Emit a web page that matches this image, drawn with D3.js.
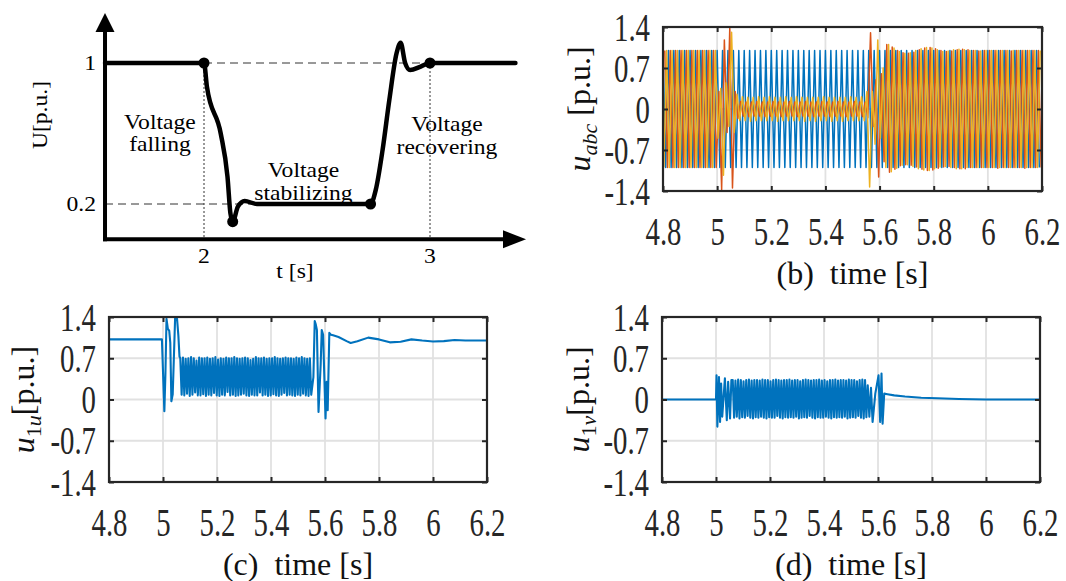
<!DOCTYPE html>
<html>
<head>
<meta charset="utf-8">
<script src="https://cdn.jsdelivr.net/npm/d3@7"></script>
<style>
  body { margin: 0; background: #fff; }
  svg { display: block; }
</style>
</head>
<body>
<div id="fig"></div>
<script>
// ---------- (a) sketch of the voltage dip
var sagT = [1.562, 2.0, 2.013, 2.074, 2.104, 2.117, 2.127, 2.15, 2.18, 2.234, 2.737, 2.76, 2.79, 2.82, 2.852, 2.87, 2.89, 2.912, 2.959, 3.0, 3.378];
var sagU = [1, 1, 0.865, 0.6, 0.354, 0.146, 0.1, 0.185, 0.217, 0.2, 0.2, 0.28, 0.505, 0.79, 1.055, 1.115, 1.0, 0.96, 0.98, 1.0, 1.0];
var sagDotT = [2, 2.127, 2.737, 3];
var sagDotU = [1, 0.1, 0.2, 1];
var sagTickT = [2, 3];
var sagTickU = [0.2, 1];
var sagStages = [
  {lines: ["Voltage", "falling"], t: 1.805, u: 0.66},
  {lines: ["Voltage", "stabilizing"], t: 2.44, u: 0.387},
  {lines: ["Voltage", "recovering"], t: 3.075, u: 0.648}
];

// ---------- (b)-(d) simulation traces
var xTicks = [4.8, 5, 5.2, 5.4, 5.6, 5.8, 6, 6.2];
var xTickLabels = ["4.8", "5", "5.2", "5.4", "5.6", "5.8", "6", "6.2"];
var yTicks = [-1.4, -0.7, 0, 0.7, 1.4];
var yTickLabels = ["-1.4", "-0.7", "0", "0.7", "1.4"];

// (b) half-cycle peak magnitudes of the three phase voltages, one every 10 ms
var halfPeriod = 0.01;
var phaseStart = [4.8, 4.80667, 4.80333];
var phaseSign = [1, 1, -1];
var phaseA = [
  1, 1, 1, 1, 1, 1, 1, 1, 1, 1, 1, 1, 1, 1, 1, 1, 1, 1, 1, 1,
  1, 1, 1, 1, 1, 1, 1, 1, 1, 1, 1, 1, 1, 1, 1, 1, 1, 1, 1, 1,
  1, 1, 1, 1, 1, 1, 1, 1, 1, 1, 1, 1, 1, 1, 1, 1, 1, 1, 1, 1,
  1, 1, 1, 1, 1, 1, 1, 1, 1, 1, 1, 1, 1, 1, 1, 1, 1, 1, 1, 1,
  1, 1, 1, 1, 1, 1, 1, 1, 1, 1, 1, 1, 1, 1, 1, 1, 1, 1, 1, 1,
  1, 1, 1, 1, 1, 1, 1, 1, 1, 1, 1, 1, 1, 1, 1, 1, 1, 1, 1, 1,
  1, 1, 1, 1, 1, 1, 1, 1, 1, 1, 1, 1, 1, 1, 1, 1, 1, 1, 1, 1
];
var phaseB = [
  1, 1, 1, 1, 1, 1, 1, 1, 1, 1, 1, 1, 1, 1, 1, 1, 1, 1, 1, 1,
  0.3, 1.38, 1.18, 0.4, 1.38, 1.35, 0.3, 0.16, 0.13, 0.12, 0.12, 0.13, 0.12, 0.12, 0.13, 0.12, 0.12, 0.13, 0.12, 0.12,
  0.13, 0.12, 0.12, 0.13, 0.12, 0.12, 0.13, 0.12, 0.12, 0.13, 0.12, 0.12, 0.13, 0.12, 0.12, 0.13, 0.12, 0.12, 0.13, 0.12,
  0.12, 0.13, 0.12, 0.12, 0.13, 0.12, 0.12, 0.13, 0.12, 0.12, 0.13, 0.12, 0.12, 0.13, 0.12, 0.15, 1.3, 0.3, 0.5, 1.16,
  0.6, 0.9, 1.1, 1.08, 1.06, 1.03, 1.0, 0.97, 0.96, 0.95, 0.95, 0.96, 0.97, 0.99, 1.01, 1.03, 1.04, 1.05, 1.05, 1.04,
  1.03, 1.01, 1.0, 0.99, 0.98, 0.98, 0.99, 1.0, 1.01, 1.02, 1.02, 1.02, 1.01, 1.0, 1.0, 1.0, 0.99, 1.0, 1.0, 1.0,
  1, 1, 1, 1.01, 1, 1, 1, 1, 0.99, 1, 1, 1, 1, 1.01, 1, 1, 1, 1, 1, 1
];
var phaseC = [
  1, 1, 1, 1, 1, 1, 1, 1, 1, 1, 1, 1, 1, 1, 1, 1, 1, 1, 1, 1,
  0.5, 0.35, 1.13, 0.45, 0.3, 1.31, 0.4, 0.25, 0.2, 0.21, 0.2, 0.2, 0.21, 0.2, 0.2, 0.21, 0.2, 0.2, 0.2, 0.21,
  0.2, 0.2, 0.21, 0.2, 0.2, 0.21, 0.2, 0.2, 0.2, 0.21, 0.2, 0.2, 0.21, 0.2, 0.2, 0.2, 0.21, 0.2, 0.2, 0.21,
  0.2, 0.2, 0.21, 0.2, 0.2, 0.2, 0.21, 0.2, 0.2, 0.21, 0.2, 0.2, 0.2, 0.21, 0.2, 0.3, 1.33, 0.3, 0.6, 1.18,
  0.5, 0.7, 1.0, 1.1, 1.07, 1.04, 1.01, 0.98, 0.96, 0.95, 0.95, 0.96, 0.98, 1.0, 1.02, 1.03, 1.04, 1.05, 1.05, 1.04,
  1.02, 1.01, 0.99, 0.98, 0.98, 0.99, 1.0, 1.01, 1.02, 1.02, 1.02, 1.01, 1.0, 1.0, 1.0, 1.0, 1.0, 0.99, 1.0, 1.0,
  1, 1, 1, 1, 1, 1, 1, 1, 1, 1, 1, 1, 1, 1, 1, 1, 1, 1, 1, 1
];
var phaseColors = ["#0072BD", "#D95319", "#EDB120"];

// (c) u1u: fault-entry transient, 100 Hz ripple band during the dip, recovery
var u1uOnT = [4.8, 4.996, 5.005, 5.009, 5.013, 5.018, 5.023, 5.027, 5.031, 5.036, 5.040, 5.045, 5.052, 5.057, 5.061];
var u1uOnV = [1.02, 1.02, -0.2, 0.44, 1.37, 1.2, 1.17, 0.96, -0.03, 0.09, 0.67, 1.4, 1.37, 1.08, 0.73];
var u1uBandStart = 5.064;
var u1uBandHi = [
  0.70, 0.71, 0.69, 0.70, 0.72, 0.70, 0.66, 0.71, 0.70, 0.70,
  0.71, 0.69, 0.70, 0.72, 0.68, 0.70, 0.69, 0.71, 0.70, 0.70,
  0.72, 0.70, 0.69, 0.70, 0.71, 0.70, 0.67, 0.69, 0.72, 0.70,
  0.70, 0.71, 0.69, 0.70, 0.70, 0.72, 0.70, 0.69, 0.70, 0.71,
  0.70, 0.70, 0.69, 0.71, 0.70, 0.72, 0.70, 0.69, 0.70
];
var u1uBandLo = [
  0.08, 0.07, 0.10, 0.06, 0.08, 0.12, 0.07, 0.07, 0.09, 0.06,
  0.08, 0.07, 0.11, 0.07, 0.06, 0.08, 0.07, 0.13, 0.07, 0.08,
  0.06, 0.07, 0.08, 0.10, 0.07, 0.06, 0.08, 0.07, 0.07, 0.12,
  0.07, 0.08, 0.06, 0.07, 0.09, 0.07, 0.06, 0.08, 0.11, 0.07,
  0.08, 0.07, 0.06, 0.08, 0.07, 0.10, 0.07, 0.06, 0.08
];
var u1uOffT = [5.557, 5.562, 5.566, 5.570, 5.576, 5.584, 5.588, 5.593, 5.602, 5.606, 5.610, 5.616, 5.622, 5.63, 5.65, 5.68, 5.695, 5.72, 5.76, 5.80, 5.84, 5.88, 5.92, 5.96, 6.0, 6.04, 6.08, 6.12, 6.2];
var u1uOffV = [0.38, 1.33, 1.27, 1.18, -0.21, 0.6, 1.18, 1.1, -0.32, 0.3, -0.18, 1.13, 1.1, 1.09, 1.06, 0.99, 0.96, 0.99, 1.05, 1.02, 0.97, 0.98, 1.02, 1.0, 0.985, 0.99, 1.01, 1.0, 1.0];

// (d) u1v
var u1vOnT = [4.8, 5.0, 5.002, 5.005, 5.011, 5.015, 5.019, 5.023, 5.033, 5.040, 5.045, 5.052, 5.057];
var u1vOnV = [0, 0, 0.41, -0.46, 0.38, -0.38, 0.27, -0.29, 0.36, -0.35, 0.3, -0.32, 0.33];
var u1vBandStart = 5.062;
var u1vBandHi = [
  0.33, 0.32, 0.34, 0.33, 0.31, 0.33, 0.34, 0.32, 0.33, 0.33,
  0.32, 0.34, 0.33, 0.33, 0.31, 0.33, 0.34, 0.33, 0.32, 0.33,
  0.33, 0.34, 0.32, 0.33, 0.33, 0.31, 0.33, 0.34, 0.33, 0.32,
  0.33, 0.33, 0.34, 0.32, 0.33, 0.31, 0.33, 0.33, 0.34, 0.32,
  0.33, 0.33, 0.32, 0.34, 0.33, 0.33, 0.31, 0.33, 0.34, 0.33
];
var u1vBandLo = [
  -0.31, -0.29, -0.32, -0.30, -0.31, -0.28, -0.31, -0.32, -0.30, -0.31,
  -0.29, -0.31, -0.32, -0.30, -0.31, -0.31, -0.28, -0.31, -0.32, -0.30,
  -0.31, -0.30, -0.31, -0.29, -0.32, -0.31, -0.30, -0.31, -0.28, -0.31,
  -0.32, -0.30, -0.31, -0.31, -0.29, -0.31, -0.32, -0.30, -0.31, -0.30,
  -0.31, -0.29, -0.32, -0.31, -0.30, -0.31, -0.28, -0.31, -0.32, -0.30
];
var u1vOffT = [5.562, 5.568, 5.574, 5.580, 5.59, 5.602, 5.608, 5.613, 5.617, 5.623, 5.635, 5.66, 5.70, 5.76, 5.82, 5.9, 6.0, 6.2];
var u1vOffV = [0.24, -0.29, 0.2, -0.38, 0.1, 0.41, -0.38, 0.44, -0.41, 0.1, 0.09, 0.07, 0.05, 0.03, 0.02, 0.008, 0.0, 0.0];

var svg = d3.select("#fig").append("svg").attr("width", 1066).attr("height", 581);
var serifFont = "'Liberation Serif', 'Times New Roman'";

// ================= panel (a)
var xa = d3.scaleLinear().domain([2, 3]).range([204, 430]);
var ya = d3.scaleLinear().domain([0.2, 1]).range([204, 63]);
var ga = svg.append("g").attr("fill", "#000");
var ax0 = xa(1.562), ay0 = ya(0);
var wide = " scale(1.18,1)";   // the sketch uses a wider serif face

// guide lines
ga.append("line").attr("x1", xa(2)).attr("x2", xa(3)).attr("y1", ya(1)).attr("y2", ya(1))
  .attr("stroke", "#333").attr("stroke-width", 1).attr("stroke-dasharray", "8,5");
ga.append("line").attr("x1", ax0).attr("x2", xa(2.737)).attr("y1", ya(0.2)).attr("y2", ya(0.2))
  .attr("stroke", "#333").attr("stroke-width", 1).attr("stroke-dasharray", "8,5");
ga.selectAll(".vguide").data(sagTickT).join("line")
  .attr("x1", d => xa(d)).attr("x2", d => xa(d)).attr("y1", ya(1)).attr("y2", ay0)
  .attr("stroke", "#333").attr("stroke-width", 1).attr("stroke-dasharray", "2,2");

// axes with arrow heads
ga.append("line").attr("x1", ax0).attr("x2", ax0).attr("y1", ay0 + 2).attr("y2", ya(1.18))
  .attr("stroke", "#000").attr("stroke-width", 4);
ga.append("path").attr("d", "M" + (ax0 - 9.5) + "," + ya(1.176) + "L" + ax0 + "," + ya(1.284) + "L" + (ax0 + 9.5) + "," + ya(1.176) + "Z");
ga.append("line").attr("x1", ax0 - 2).attr("x2", xa(3.33)).attr("y1", ay0).attr("y2", ay0)
  .attr("stroke", "#000").attr("stroke-width", 4);
ga.append("path").attr("d", "M" + xa(3.323) + "," + (ay0 - 9) + "L" + xa(3.425) + "," + ay0 + "L" + xa(3.323) + "," + (ay0 + 9) + "Z");

// curve and dots
ga.append("path").datum(d3.zip(sagT, sagU))
  .attr("fill", "none").attr("stroke", "#000").attr("stroke-width", 4.5)
  .attr("stroke-linejoin", "round").attr("stroke-linecap", "round")
  .attr("d", d3.line().x(d => xa(d[0])).y(d => ya(d[1])).curve(d3.curveMonotoneX));
ga.selectAll(".dot").data(d3.zip(sagDotT, sagDotU)).join("circle")
  .attr("cx", d => xa(d[0])).attr("cy", d => ya(d[1])).attr("r", 5.5);

// tick labels and titles
ga.selectAll(".tl").data(sagTickT).join("text")
  .attr("transform", d => "translate(" + xa(d) + ",263)" + wide).attr("text-anchor", "middle").text(d => d);
ga.selectAll(".ul").data(sagTickU).join("text")
  .attr("transform", d => "translate(96," + (ya(d) + 7) + ")" + wide).attr("text-anchor", "end").text(d => d);
ga.append("text").attr("transform", "translate(295,278)" + wide).attr("text-anchor", "middle").text("t [s]");
ga.append("text").attr("transform", "translate(47,115) rotate(-90)" + wide).attr("text-anchor", "middle").text("U[p.u.]");
sagStages.forEach(function(s) {
  var txt = ga.append("text").attr("text-anchor", "middle")
    .attr("transform", "translate(" + xa(s.t) + "," + (ya(s.u) + 6) + ")" + wide);
  s.lines.forEach(function(line, i) {
    txt.append("tspan").attr("x", 0).attr(i ? "dy" : "y", i ? 22.5 : 0).text(line);
  });
});
ga.selectAll("text").style("font-family", serifFont).style("font-size", "20px");

// ================= panels (b)-(d)
function halfCycles(mags, t0, sign0) {
  return mags.map(function(m, k) { return [t0 + k * halfPeriod, (k % 2 ? -sign0 : sign0) * m]; });
}
function withBand(onT, onV, start, hi, lo, offT, offV) {
  var pts = d3.zip(onT, onV);
  hi.forEach(function(h, i) {
    pts.push([start + i * halfPeriod, h]);
    pts.push([start + i * halfPeriod + halfPeriod / 2, lo[i]]);
  });
  return pts.concat(d3.zip(offT, offV));
}

var scopeId = 0;
function scope(cfg) {
  var x = d3.scaleLinear().domain([4.8, 6.2]).range([cfg.left, cfg.right]);
  var y = d3.scaleLinear().domain([-1.4, 1.4]).range([cfg.bottom, cfg.top]);
  var h = cfg.bottom - cfg.top, w = cfg.right - cfg.left;
  var g = svg.append("g");
  var id = "clip" + (scopeId++);
  g.append("clipPath").attr("id", id).append("rect")
    .attr("x", cfg.left).attr("y", cfg.top).attr("width", w).attr("height", h);

  // grid
  g.append("g").selectAll("line").data(xTicks.slice(1, -1)).join("line")
    .attr("x1", d => x(d)).attr("x2", d => x(d)).attr("y1", cfg.top).attr("y2", cfg.bottom)
    .attr("stroke", "#e1e1e1").attr("stroke-width", 1.8);
  g.append("g").selectAll("line").data(yTicks.slice(1, -1)).join("line")
    .attr("y1", d => y(d)).attr("y2", d => y(d)).attr("x1", cfg.left).attr("x2", cfg.right)
    .attr("stroke", "#e1e1e1").attr("stroke-width", 1.8);

  // traces
  var line = d3.line().x(d => x(d[0])).y(d => y(d[1]));
  var plot = g.append("g").attr("clip-path", "url(#" + id + ")");
  cfg.series.forEach(function(s) {
    plot.append("path").datum(s.points).attr("fill", "none")
      .attr("stroke", s.color).attr("stroke-width", cfg.lw).attr("stroke-linejoin", "round")
      .attr("d", line);
  });

  // axes, inward ticks, box
  var tickStyle = function(sel) {
    sel.select(".domain").remove();
    sel.selectAll("line").attr("stroke", "#262626").attr("stroke-width", 2);
    sel.selectAll("text").attr("fill", "#262626").style("font-size", "40px");
  };
  g.append("g").attr("transform", "translate(0," + cfg.bottom + ")")
    .call(d3.axisBottom(x).tickValues(xTicks).tickFormat((d, i) => xTickLabels[i]).tickSizeInner(-5).tickSizeOuter(0))
    .call(tickStyle)
    .selectAll("text").attr("y", 54).attr("dy", null).attr("transform", "scale(0.72,1)");
  g.append("g").attr("transform", "translate(0," + cfg.top + ")")
    .call(d3.axisTop(x).tickValues(xTicks).tickFormat("").tickSizeInner(-5).tickSizeOuter(0))
    .call(tickStyle);
  g.append("g").attr("transform", "translate(" + cfg.left + ",0)")
    .call(d3.axisLeft(y).tickValues(yTicks).tickFormat((d, i) => yTickLabels[i]).tickSizeInner(-5).tickSizeOuter(0))
    .call(tickStyle)
    .selectAll("text").attr("x", -13 / 0.72).attr("dy", "0.33em").attr("transform", "scale(0.72,1)");
  g.append("g").attr("transform", "translate(" + cfg.right + ",0)")
    .call(d3.axisRight(y).tickValues(yTicks).tickFormat("").tickSizeInner(-5).tickSizeOuter(0))
    .call(tickStyle);
  g.append("rect").attr("x", cfg.left).attr("y", cfg.top).attr("width", w).attr("height", h)
    .attr("fill", "none").attr("stroke", "#262626").attr("stroke-width", 2.2);

  // labels
  g.append("text").attr("x", (cfg.left + cfg.right) / 2).attr("y", cfg.bottom + 93)
    .attr("text-anchor", "middle").style("font-size", "32px").style("white-space", "pre")
    .attr("fill", "#111").text(cfg.caption);
  var yl = g.append("text")
    .attr("transform", "translate(" + cfg.ylabelX + "," + ((cfg.top + cfg.bottom) / 2) + ") rotate(-90)")
    .attr("text-anchor", "middle").style("font-size", "32px").style("white-space", "pre").attr("fill", "#111");
  yl.append("tspan").style("font-style", "italic").text("u");
  cfg.sub.forEach(function(p, i) {
    yl.append("tspan").style("font-size", "22px").style("font-style", p.italic ? "italic" : "normal")
      .attr("dy", i === 0 ? 7 : null).text(p.text);
  });
  yl.append("tspan").attr("dy", -7).text(cfg.unit);

  g.selectAll("text").style("font-family", serifFont);
}

scope({
  left: 663, right: 1042, top: 27, bottom: 191, lw: 1.5,
  caption: "(b)  time [s]", ylabelX: 590,
  sub: [{text: "abc", italic: true}], unit: " [p.u.]",
  series: [phaseA, phaseB, phaseC].map(function(mags, p) {
    return {color: phaseColors[p], points: halfCycles(mags, phaseStart[p], phaseSign[p])};
  })
});
scope({
  left: 109, right: 487, top: 317, bottom: 482, lw: 2.1,
  caption: "(c)  time [s]", ylabelX: 34,
  sub: [{text: "1", italic: false}, {text: "u", italic: true}], unit: "[p.u.]",
  series: [{color: phaseColors[0], points: withBand(u1uOnT, u1uOnV, u1uBandStart, u1uBandHi, u1uBandLo, u1uOffT, u1uOffV)}]
});
scope({
  left: 662, right: 1040, top: 317, bottom: 482, lw: 2.1,
  caption: "(d)  time [s]", ylabelX: 589,
  sub: [{text: "1", italic: false}, {text: "v", italic: true}], unit: "[p.u.]",
  series: [{color: phaseColors[0], points: withBand(u1vOnT, u1vOnV, u1vBandStart, u1vBandHi, u1vBandLo, u1vOffT, u1vOffV)}]
});
</script>
</body>
</html>
